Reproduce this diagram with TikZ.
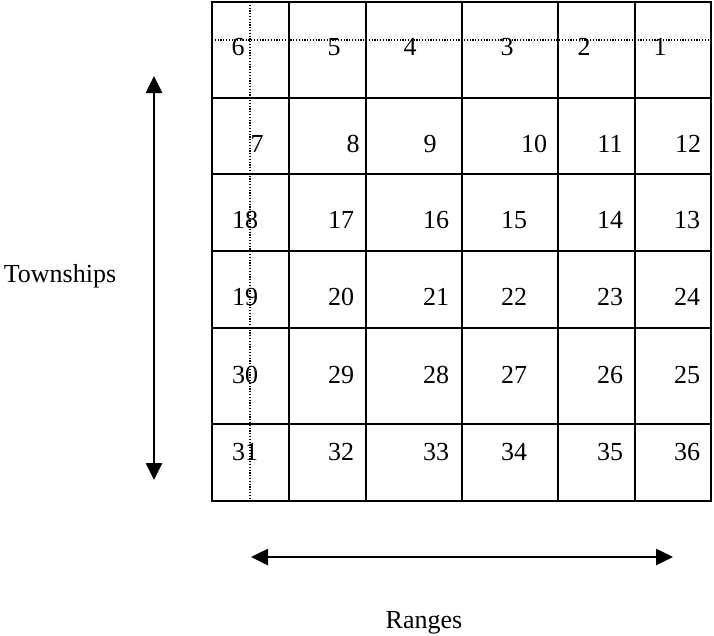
\documentclass[tikz,border=0pt]{standalone}
\usepackage{fontspec}
\setmainfont{Liberation Serif}
\usepackage{tikz}
\usetikzlibrary{arrows.meta}
\definecolor{GridInk}{RGB}{0,0,0}

\begin{document}
\begin{tikzpicture}[x=1pt, y=-1pt,
    secnum/.style={anchor=base, inner sep=0pt, font=\fontsize{26}{30}\selectfont},
    gridline/.style={line width=2.3pt, line cap=rect, color=GridInk},
    guideline/.style={dash pattern=on 1.2pt off 1.6pt, line width=1.2pt, color=GridInk},
    bigarrow/.style={line width=2.6pt, color=GridInk, {Triangle[length=17pt,width=16pt]}-{Triangle[length=17pt,width=16pt]}}]
    \useasboundingbox (0,0) rectangle (714,635);

    % Township grid
    \foreach \gx in {212,289,366,462,558,635,711} \draw[gridline] (\gx,2) -- (\gx,501);
    \foreach \gy in {2,98,174,251,328,424,501} \draw[gridline] (212,\gy) -- (711,\gy);

    % Dotted guide lines
    \draw[guideline] (212,40) -- (711,40);
    \draw[guideline] (250,2) -- (250,501);

    % Section numbers, row by row
    \foreach \n/\px in {6/238, 5/334, 4/410, 3/507, 2/584, 1/660}
        \node[secnum] (sec\n) at (\px,55) {\n};
    \foreach \n/\px in {7/257, 8/353, 9/430, 10/534, 11/610, 12/688}
        \node[secnum] (sec\n) at (\px,152) {\n};
    \foreach \n/\px in {18/245, 17/341, 16/436, 15/514, 14/610, 13/687}
        \node[secnum] (sec\n) at (\px,228) {\n};
    \foreach \n/\px in {19/245, 20/341, 21/436, 22/514, 23/610, 24/687}
        \node[secnum] (sec\n) at (\px,305) {\n};
    \foreach \n/\px in {30/245, 29/341, 28/436, 27/514, 26/610, 25/687}
        \node[secnum] (sec\n) at (\px,383) {\n};
    \foreach \n/\px in {31/245, 32/341, 33/436, 34/514, 35/610, 36/687}
        \node[secnum] (sec\n) at (\px,460) {\n};

    % Direction arrows and captions
    \coordinate (twpTop) at (154,76);
    \coordinate (twpBot) at (154,480);
    \draw[bigarrow] (twpTop) -- (twpBot);
    \node[secnum] (townships) at (60,282) {Townships};

    \coordinate (rngLeft) at (251,557);
    \coordinate (rngRight) at (673,557);
    \draw[bigarrow] (rngLeft) -- (rngRight);
    \node[secnum] (ranges) at (424,628) {Ranges};
\end{tikzpicture}
\end{document}
